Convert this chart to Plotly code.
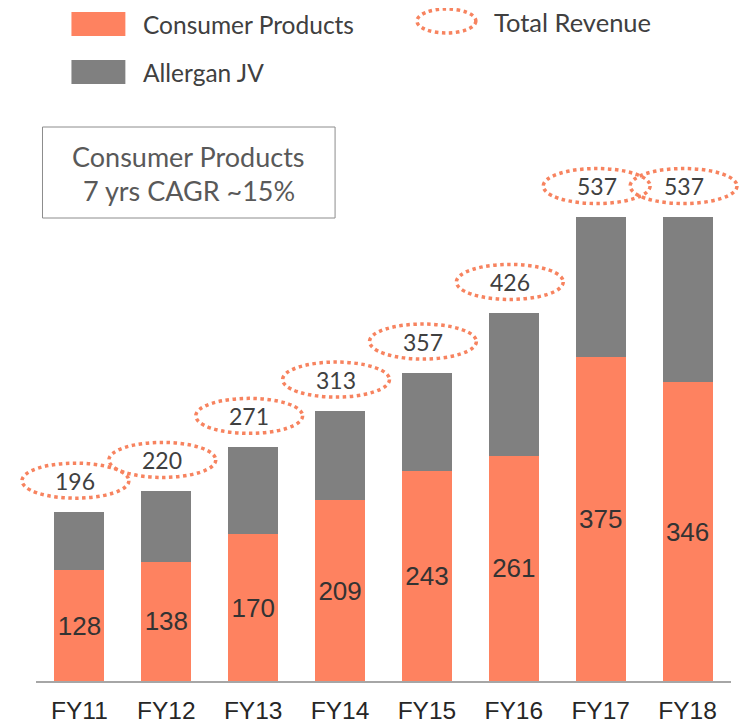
import plotly.graph_objects as go

categories = ["FY11", "FY12", "FY13", "FY14", "FY15", "FY16", "FY17", "FY18"]
consumer_products = [128, 138, 170, 209, 243, 261, 375, 346]
total_revenue = [196, 220, 271, 313, 357, 426, 537, 537]
allergan_jv = [t - c for t, c in zip(total_revenue, consumer_products)]

legend_labels = ["Consumer Products", "Allergan JV", "Total Revenue"]
box_lines = ["Consumer Products", "7 yrs CAGR ~15%"]

ORANGE = "#FE8260"
GRAY = "#808080"
DOT = "#F7835F"
CAL = "Lato, 'Open Sans', sans-serif"
ARIAL = "'Liberation Sans', Arial, sans-serif"

PAGE_W, PAGE_H = 747, 725
OFF = 8  # default page body margin
W, H = PAGE_W - OFF, PAGE_H - OFF
# plot area in page pixels
PL, PR = 35.5, 731.5
PB, PT = 681, 100
PXU = 0.864  # pixels per unit
YMAX = (PB - PT) / PXU
N = len(categories)
CAT_PX = (PR - PL) / N


def px_x(px):
    return (px - PL) / (PR - PL)


def px_y(py):
    return (PB - py) / (PB - PT)


def cat_to_paper(i):
    # category index -> paper x for range [-0.5, N-0.5]
    return (i + 0.5) / N


def val_to_paper(v):
    return v / YMAX


fig = go.Figure()
fig.add_trace(go.Bar(
    x=categories, y=consumer_products, name=legend_labels[0],
    marker=dict(color=ORANGE, line=dict(width=0)),
    text=[str(v) for v in consumer_products], textposition="inside",
    insidetextanchor="middle", textangle=0,
    textfont=dict(family=ARIAL, size=26, color="#333333"),
))
fig.add_trace(go.Bar(
    x=categories, y=allergan_jv, name=legend_labels[1],
    marker=dict(color=GRAY, line=dict(width=0)),
    hoverinfo="skip",
))

shapes = []
annotations = []

# dotted ellipses for totals (paper refs so they are not clipped)
half_w = 53.5 / CAT_PX
dx = -4 / CAT_PX
dy = 31 / PXU
half_h = 17.5 / PXU
for i, t in enumerate(total_revenue):
    cx = i + dx
    cy = t + dy
    shapes.append(dict(type="circle", xref="paper", yref="paper",
                       x0=cat_to_paper(cx - half_w), x1=cat_to_paper(cx + half_w),
                       y0=val_to_paper(cy - half_h), y1=val_to_paper(cy + half_h),
                       line=dict(color=DOT, width=3.5, dash="dot")))
    annotations.append(dict(x=cat_to_paper(cx), y=val_to_paper(cy),
                            xref="paper", yref="paper", text=str(t),
                            xanchor="center", yanchor="middle",
                            showarrow=False,
                            font=dict(family=CAL, size=23, color="#404040")))

# legend
for (y0, y1), col in [((12, 36), ORANGE), ((60, 84), GRAY)]:
    shapes.append(dict(type="rect", xref="paper", yref="paper",
                       x0=px_x(71), x1=px_x(125), y0=px_y(y1), y1=px_y(y0),
                       fillcolor=col, line=dict(width=0)))
shapes.append(dict(type="circle", xref="paper", yref="paper",
                   x0=px_x(417), x1=px_x(476), y0=px_y(33), y1=px_y(9),
                   line=dict(color=DOT, width=3.5, dash="dot")))
for label, (lx, ly), fs in zip(legend_labels, [(141, 24), (141, 72), (492, 21.5)],
                               [24.5, 24.5, 25.5]):
    annotations.append(dict(x=px_x(lx), y=px_y(ly), xref="paper", yref="paper",
                            text=label, showarrow=False, xanchor="left",
                            yanchor="middle",
                            font=dict(family=CAL, size=fs, color="#404040")))

# CAGR box
shapes.append(dict(type="rect", xref="paper", yref="paper",
                   x0=px_x(42), x1=px_x(335), y0=px_y(218), y1=px_y(127),
                   line=dict(color="#8C8C8C", width=1), fillcolor="rgba(0,0,0,0)"))
for line, ly in zip(box_lines, [156, 191]):
    annotations.append(dict(x=px_x(188.5), y=px_y(ly), xref="paper", yref="paper",
                            text=line, showarrow=False, xanchor="center",
                            yanchor="middle",
                            font=dict(family=CAL, size=27, color="#595959")))

fig.update_layout(
    width=W, height=H,
    margin=dict(l=PL - OFF, r=PAGE_W - PR, t=PT - OFF, b=PAGE_H - PB,
                pad=0, autoexpand=False),
    barmode="stack", bargap=0.425,
    plot_bgcolor="white", paper_bgcolor="white",
    showlegend=False,
    shapes=shapes, annotations=annotations,
    xaxis=dict(showline=True, linecolor="#A6A6A6", linewidth=2,
               range=[-0.5, N - 0.5], autorange=False,
               ticks="", showgrid=False, zeroline=False, automargin=False,
               tickfont=dict(family=ARIAL, size=24.5, color="#262626"),
               ticklabelstandoff=7),
    yaxis=dict(range=[0, YMAX], visible=False, showgrid=False, zeroline=False,
               automargin=False),
)

fig.write_html("out.html")
